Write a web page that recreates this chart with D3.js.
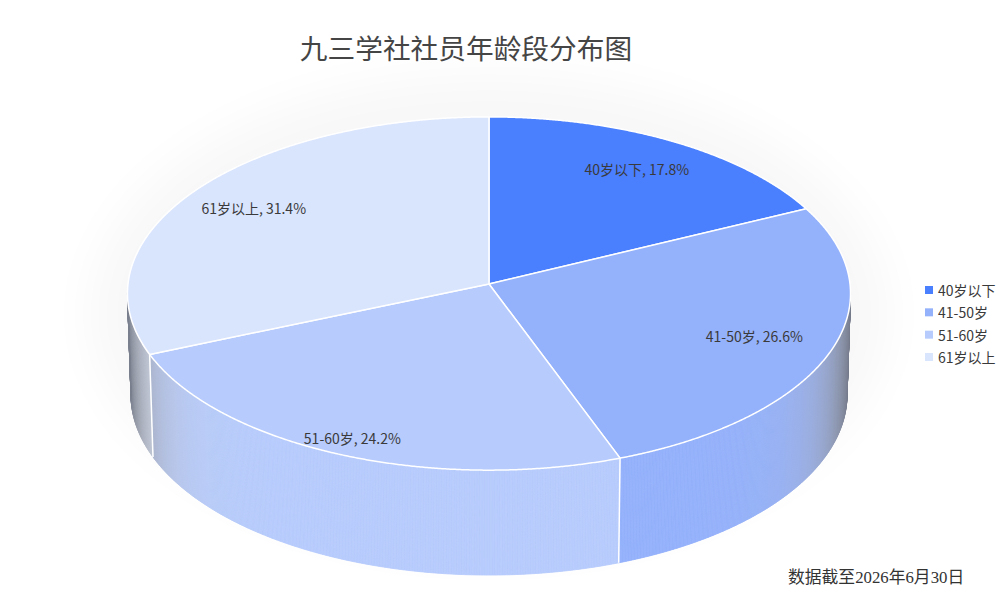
<!DOCTYPE html>
<html>
<head>
<meta charset="utf-8">
<script src="https://cdn.jsdelivr.net/npm/d3@7/dist/d3.min.js"></script>
<style>
  html, body { margin: 0; padding: 0; background: #ffffff; }
  svg { display: block; }
</style>
</head>
<body>
<svg id="chart" width="1000" height="595"></svg>
<script>
// ---- data ----
const title = "九三学社社员年龄段分布图";
const footnote = "数据截至2026年6月30日";
const categories = ["40岁以下", "41-50岁", "51-60岁", "61岁以上"];
const values = [17.8, 26.6, 24.2, 31.4];

// ---- style / layout ----
const sliceColors = ["#4a7ffe", "#94b1fb", "#b7cbfc", "#d9e4fd"];
const labelRadius = [0.8, 0.78, 0.91, 0.8];
const W = 1000, H = 595;
const cx = 489, cy = 284;          // projected centre of the disc
const elev = 29.2 * Math.PI / 180; // camera elevation
const camD = 16.2;                 // camera distance (in radii)
const F = 361 * camD;              // focal scale
const depth = 0.324;               // thickness (in radii)
const sinE = Math.sin(elev), cosE = Math.cos(elev);

function proj(x, yUp, z) {
  const yc = yUp * cosE + z * sinE;
  const d = camD + z * cosE - yUp * sinE;
  return [cx + F * x / d, cy - F * yc / d];
}
function rim(a, r, yUp) { return proj(r * Math.sin(a), yUp, r * Math.cos(a)); }

const svg = d3.select("#chart");
const defs = svg.append("defs");
defs.append("filter").attr("id", "soft").attr("x", "-50%").attr("y", "-50%").attr("width", "200%").attr("height", "200%")
  .append("feGaussianBlur").attr("stdDeviation", 24);

// faint glow behind the pie
svg.append("ellipse")
  .attr("cx", cx).attr("cy", cy + 30).attr("rx", 400).attr("ry", 240)
  .attr("fill", "#000").attr("opacity", 0.028).attr("filter", "url(#soft)");

const pie = d3.pie().sort(null).value(d => d);
const arcs = pie(values);
const line = d3.line();
const step = Math.PI / 720;

// side facets
const gray = d3.rgb(100, 106, 122);
const gSide = svg.append("g");
arcs.forEach((a, i) => {
  const base = d3.rgb(sliceColors[i]);
  const n = Math.max(2, Math.ceil((a.endAngle - a.startAngle) / step));
  for (let k = 0; k < n; k++) {
    const a0 = a.startAngle + (a.endAngle - a.startAngle) * k / n;
    const a1 = a.startAngle + (a.endAngle - a.startAngle) * (k + 1) / n;
    const am = (a0 + a1) / 2;
    if (Math.cos(am) > -0.05) continue;
    const s = Math.abs(Math.sin(am));
    const t = Math.pow(s, 14);
    const desat = Math.pow(s, 8);
    const lum = (base.r + base.g + base.b) / 3;
    const dsc = d3.rgb(
      base.r + (lum + 5 - base.r) * desat * 0.8,
      base.g + (lum + 5 - base.g) * desat * 0.8,
      base.b + (lum + 5 - base.b) * desat * 0.8);
    const c = d3.interpolateRgb(dsc, gray)(t * 0.85);
    const pts = [rim(a0, 1, 0), rim(a1, 1, 0), rim(a1, 1, -depth), rim(a0, 1, -depth)];
    gSide.append("path")
      .attr("d", line(pts) + "Z")
      .attr("fill", c).attr("stroke", c).attr("stroke-width", 0.8);
  }
});
// white boundary lines on the side
arcs.forEach(a => {
  const ang = a.startAngle;
  if (Math.cos(ang) < -0.05) {
    const p0 = rim(ang, 1, 0), p1 = rim(ang, 1, -depth);
    gSide.append("line")
      .attr("x1", p0[0]).attr("y1", p0[1]).attr("x2", p1[0]).attr("y2", p1[1])
      .attr("stroke", "#ffffff").attr("stroke-width", 1.5);
  }
});

// top faces
const gTop = svg.append("g");
arcs.forEach((a, i) => {
  const angs = d3.range(a.startAngle, a.endAngle, step).concat([a.endAngle]);
  const pts = [proj(0, 0, 0)].concat(angs.map(ang => rim(ang, 1, 0)));
  gTop.append("path")
    .attr("d", line(pts) + "Z")
    .attr("fill", sliceColors[i])
    .attr("stroke", "#ffffff").attr("stroke-width", 1.5)
    .attr("stroke-linejoin", "round");
});

// data labels
const fontCJK = "'Noto Sans CJK SC', 'Noto Sans', sans-serif";
arcs.forEach((a, i) => {
  const mid = (a.startAngle + a.endAngle) / 2;
  const p = rim(mid, labelRadius[i], 0);
  svg.append("text")
    .attr("x", p[0]).attr("y", p[1])
    .attr("text-anchor", "middle").attr("dominant-baseline", "central")
    .attr("font-family", fontCJK).attr("font-size", 14).attr("fill", "#3a3a3a")
    .text(`${categories[i]}, ${values[i].toFixed(1)}%`);
});

// title
svg.append("text")
  .attr("x", 466).attr("y", 47)
  .attr("text-anchor", "middle").attr("dominant-baseline", "central")
  .attr("font-family", fontCJK).attr("font-size", 27.7).attr("fill", "#454545")
  .text(title);

// legend
const legend = svg.append("g").attr("transform", "translate(925,290)");
const ly = d3.scalePoint().domain(categories).range([0, 67]);
categories.forEach((c, i) => {
  const g = legend.append("g").attr("transform", `translate(0,${ly(c)})`);
  g.append("rect").attr("x", 0).attr("y", -4).attr("width", 8).attr("height", 8).attr("fill", sliceColors[i]);
  g.append("text").attr("x", 13).attr("y", 0).attr("dominant-baseline", "central")
    .attr("font-family", fontCJK).attr("font-size", 14).attr("fill", "#3a3a3a").text(c);
});

// footnote
svg.append("text")
  .attr("x", 788).attr("y", 577)
  .attr("dominant-baseline", "central")
  .attr("font-family", "'Liberation Serif', 'Noto Sans CJK SC', serif")
  .attr("font-size", 16.8).attr("fill", "#333333")
  .text(footnote);
</script>
</body>
</html>
